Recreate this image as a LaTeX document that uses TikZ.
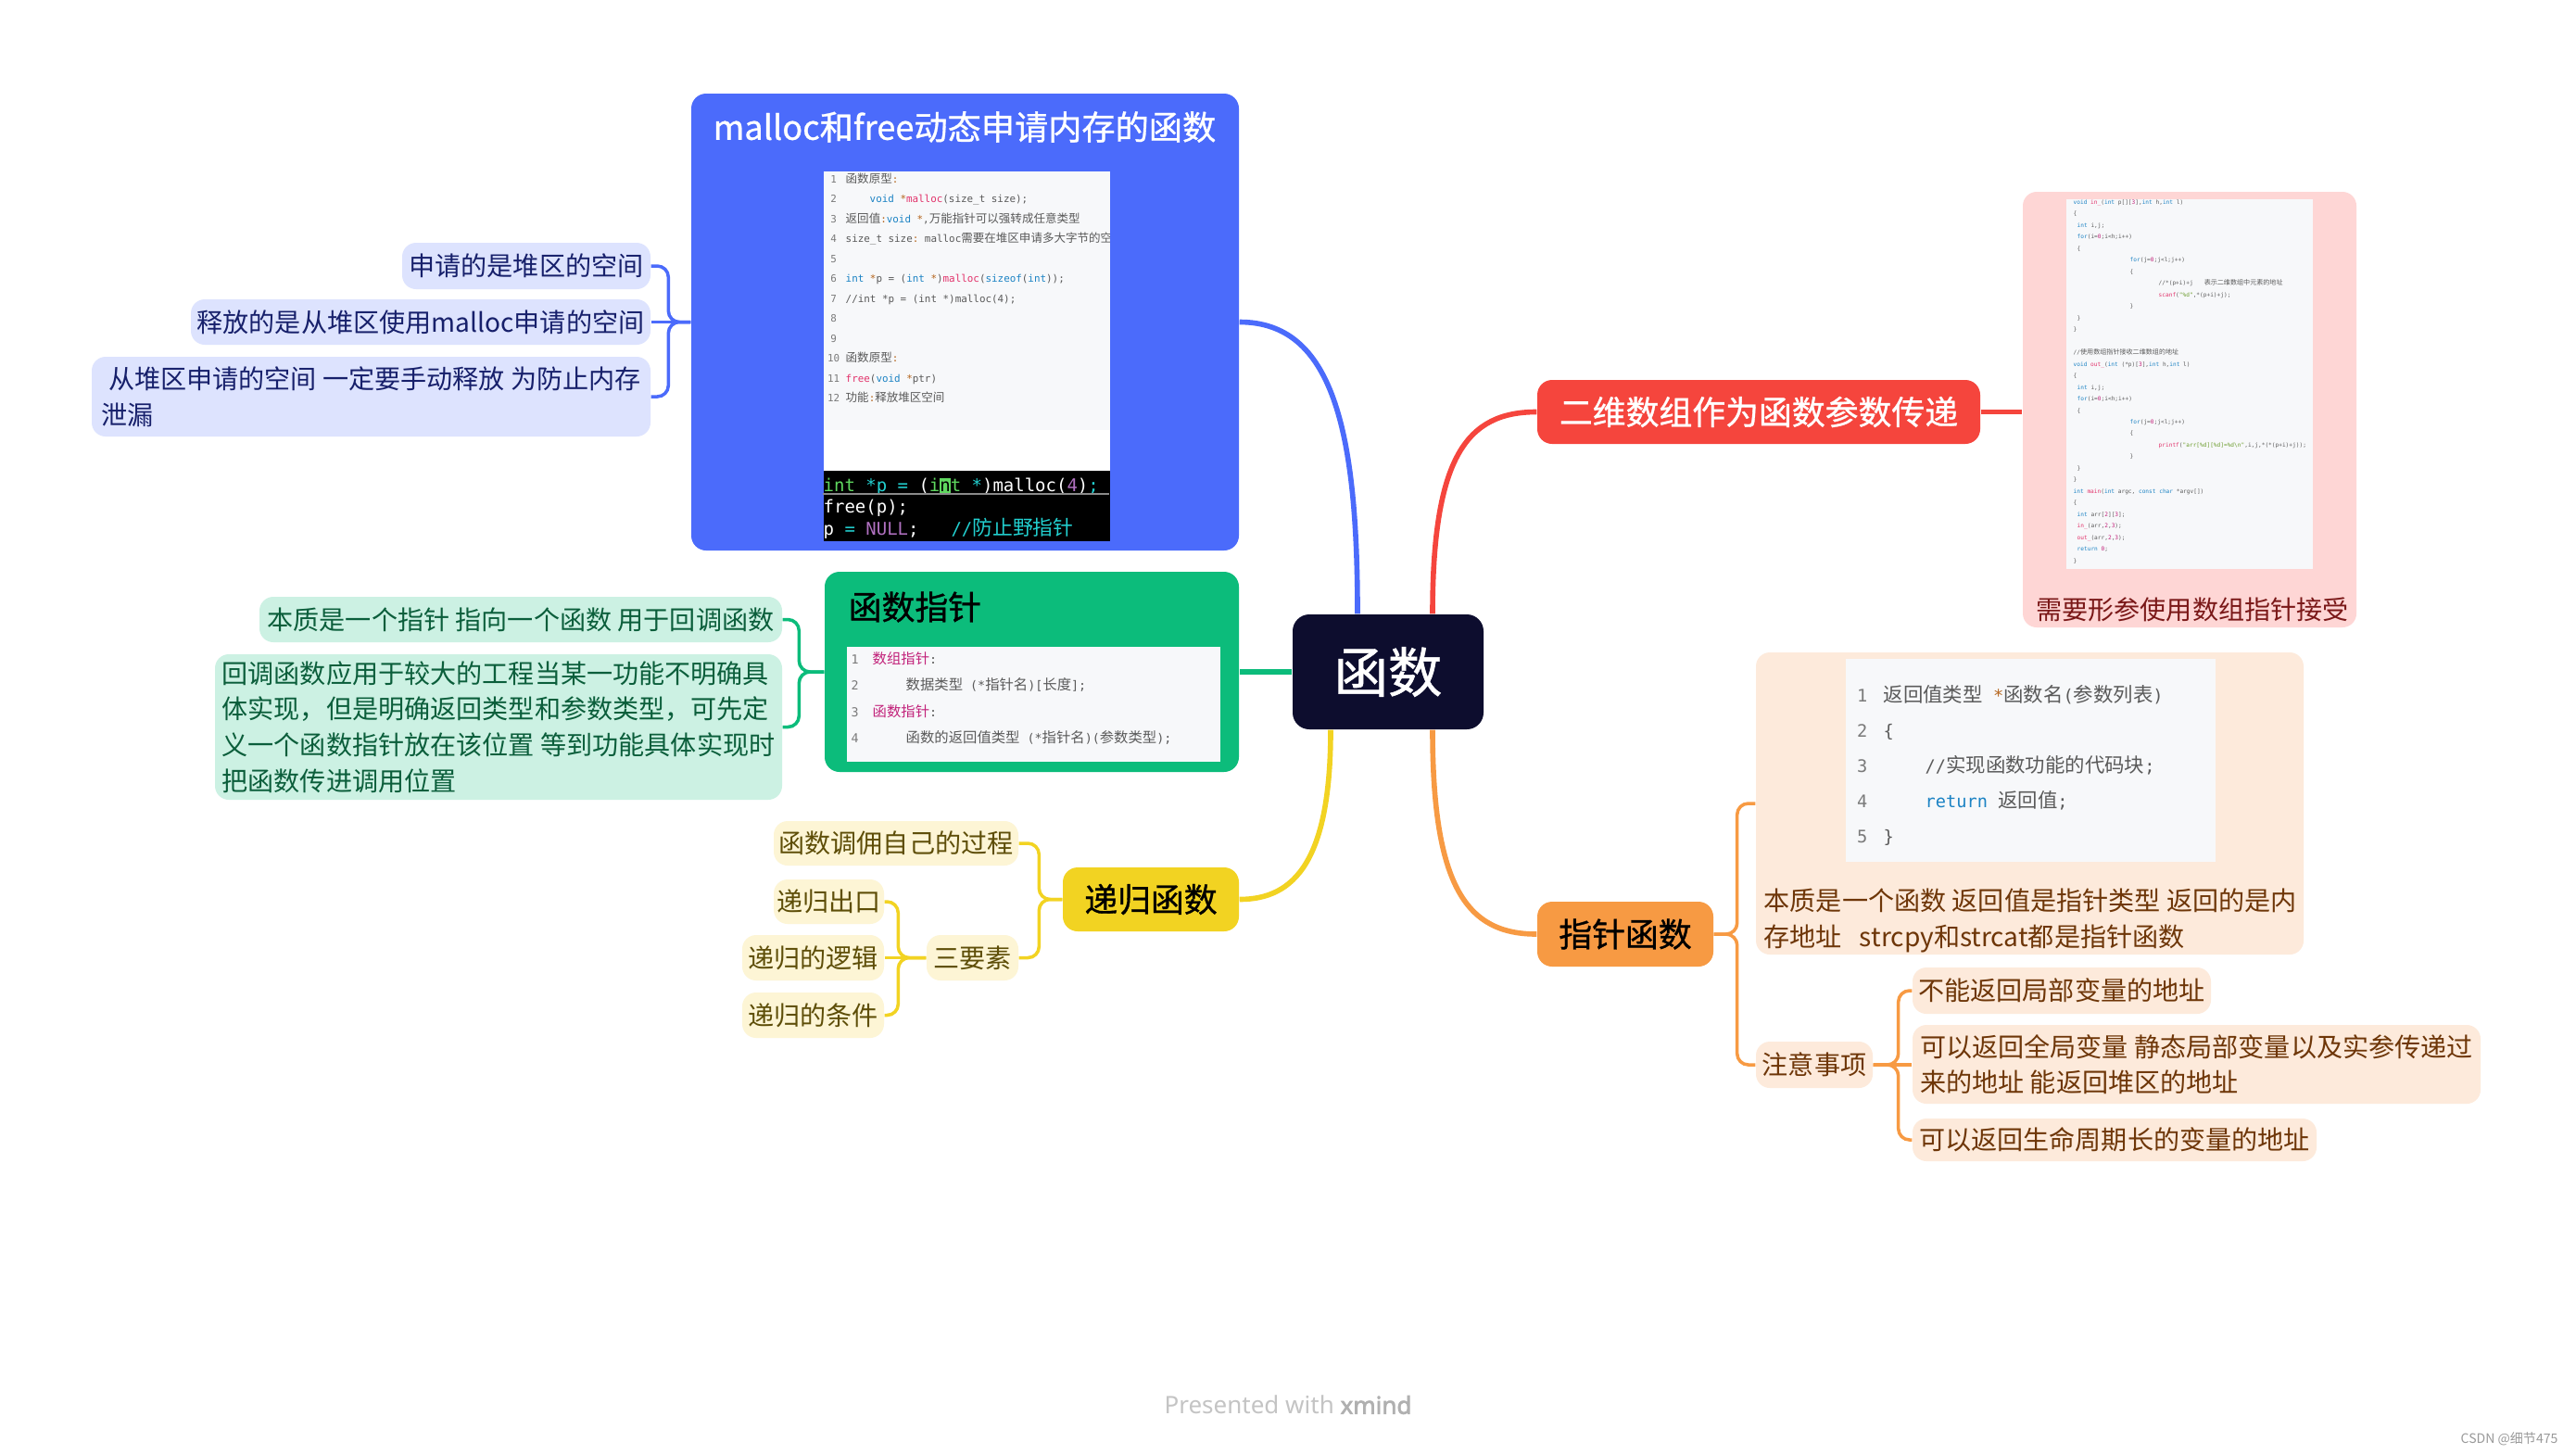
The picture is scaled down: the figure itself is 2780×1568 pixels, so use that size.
\documentclass[tikz,border=0pt]{standalone}
\usepackage{fontspec}
\setmainfont{Noto Sans CJK SC}
\setmonofont{DejaVu Sans Mono}
\newfontfamily\zhcode{Noto Sans CJK SC}[Scale=1.15]
\newfontfamily\topicfont{Noto Sans CJK SC}[FakeBold=0.9]
\newfontfamily\footfont{Noto Sans}[BoldFont={Noto Sans}, BoldFeatures={FakeBold=2.5}]
\usetikzlibrary{positioning}

\definecolor{mapnavy}{HTML}{0D0D2E}
\definecolor{mapblue}{HTML}{4B6BFB}
\definecolor{mapbluel}{HTML}{DDE3FE}
\definecolor{mapbluet}{HTML}{17206B}
\definecolor{mapgreen}{HTML}{0CBC7B}
\definecolor{mapgreenl}{HTML}{CCF1E3}
\definecolor{mapgreent}{HTML}{0B5E3B}
\definecolor{mapyellow}{HTML}{F2D322}
\definecolor{mapyellowl}{HTML}{FDF5D5}
\definecolor{mapyellowt}{HTML}{5E4E08}
\definecolor{mapred}{HTML}{F5453D}
\definecolor{mappink}{HTML}{FED6D5}
\definecolor{mappinkt}{HTML}{7A1818}
\definecolor{maporange}{HTML}{F79A43}
\definecolor{mappeach}{HTML}{FDEADB}
\definecolor{mappeacht}{HTML}{6E3608}
\definecolor{codebg}{HTML}{F7F8FA}
\definecolor{codegray}{HTML}{5A5A5A}
\definecolor{codeln}{HTML}{7A7A7A}
\definecolor{codekw}{HTML}{1C83C4}
\definecolor{codefn}{HTML}{E2336B}
\definecolor{codestr}{HTML}{6A9B2A}
\definecolor{codenum}{HTML}{C2227A}
\definecolor{codemag}{HTML}{C2227A}
\definecolor{codebrown}{HTML}{B5651D}
\definecolor{termgreen}{HTML}{5FD75F}
\definecolor{termcyan}{HTML}{22D0D0}
\definecolor{termpurple}{HTML}{B070C0}
\definecolor{termrule}{HTML}{8A8A8A}
\definecolor{footgray}{HTML}{C4C4C4}
\definecolor{footdark}{HTML}{B0B0B0}
\definecolor{markgray}{HTML}{9A9A9A}

\newcommand{\lno}[2]{\makebox[#1][c]{\color{codeln}#2}}
\newcommand{\ckw}[1]{{\color{codekw}#1}}
\newcommand{\cfn}[1]{{\color{codefn}#1}}
\newcommand{\cstr}[1]{{\color{codestr}#1}}
\newcommand{\cnum}[1]{{\color{codenum}#1}}
\newcommand{\cpt}[1]{{\color{codebrown}#1}}

\tikzset{
  hub/.style={fill=mapnavy, text=white, rounded corners=1.8mm, inner sep=0pt,
    minimum width=20.6mm, minimum height=12.4mm, font=\topicfont\fontsize{16.6}{20}\selectfont},
  topic/.style={rounded corners=1.6mm, inner sep=0pt, font=\topicfont\fontsize{10.2}{12}\selectfont},
  leaf/.style={rounded corners=1.5mm, inner sep=0pt, font=\fontsize{8}{11}\selectfont},
  branch/.style={line width=1.6pt},
  twig/.style={line width=1pt, rounded corners=1.2mm},
  codebox/.style={fill=codebg, inner sep=0pt, anchor=north west},
  codetext/.style={inner sep=0pt, anchor=north west, align=left, text=codegray},
}

\begin{document}
\begin{tikzpicture}[x=0.1mm,y=-0.1mm]
\useasboundingbox (0,0) rectangle (2780,1568);
\fill[white] (0,0) rectangle (2780,1568);

% centre
\node[hub] (hub) at (1498,725) {函数};

% malloc and free
\node[topic, fill=mapblue, minimum width=59.1mm, minimum height=49.3mm] (malloc) at (1041.5,347.5) {};
\node[font=\topicfont\fontsize{10.3}{12}\selectfont, text=white] (malloctitle) at (1041,137) {malloc和free动态申请内存的函数};
\node[codebox, minimum width=30.9mm, minimum height=27.9mm] (mallocsrc) at (888,184) {};
\node[codebox, fill=white, minimum width=30.9mm, minimum height=4.4mm] (mallocgap) at (888,463) {};
\node[codebox, fill=black, minimum width=30.9mm, minimum height=7.6mm] (mallocterm) at (888,507) {};
\begin{scope}
\clip (888,184) rectangle (1197,463);
\node[codetext, font=\ttfamily\fontsize{3.1}{6.12}\selectfont] (malloccode) at (888,186) {%
\lno{2.2mm}{1}\hspace*{0.2mm}{\zhcode 函数原型}\cpt{:}\\
\lno{2.2mm}{2}\hspace*{2.8mm}\ckw{void} \cpt{*}\cfn{malloc}(size\_t size);\\
\lno{2.2mm}{3}\hspace*{0.2mm}{\zhcode 返回值}\cpt{:}\ckw{void} \cpt{*},{\zhcode 万能指针可以强转成任意类型}\\
\lno{2.2mm}{4}\hspace*{0.2mm}size\_t size\cpt{:} malloc{\zhcode 需要在堆区申请多大字节的空间}\\
\lno{2.2mm}{5}\\
\lno{2.2mm}{6}\hspace*{0.2mm}\ckw{int} \cpt{*}p = (\ckw{int} \cpt{*})\cfn{malloc}(\ckw{sizeof}(\ckw{int}));\\
\lno{2.2mm}{7}\hspace*{0.2mm}//int *p = (int *)malloc(4);\\
\lno{2.2mm}{8}\\
\lno{2.2mm}{9}\\
\lno{2.2mm}{10}\hspace*{0.2mm}{\zhcode 函数原型}\cpt{:}\\
\lno{2.2mm}{11}\hspace*{0.2mm}\cfn{free}(\ckw{void} \cpt{*}ptr)\\
\lno{2.2mm}{12}\hspace*{0.2mm}{\zhcode 功能}\cpt{:}{\zhcode 释放堆区空间}};
\end{scope}
\node[codetext, text=white, font=\ttfamily\fontsize{5.4}{6.7}\selectfont] (mallocshell) at (888,515) {%
\textcolor{termgreen}{int} \textcolor{termcyan}{*p =} (\textcolor{termgreen}{i}{\setlength{\fboxsep}{0pt}\colorbox{termgreen}{\textcolor{black}{n}\vphantom{lp}}}\textcolor{termgreen}{t} \textcolor{termcyan}{*})malloc(\textcolor{termpurple}{4})\textcolor{termcyan}{;}\\
free(p);\\
p \textcolor{termcyan}{=} \textcolor{termpurple}{NULL};\hspace*{3.5mm}\textcolor{termcyan}{//{\zhcode 防止野指针}}};
\draw[termrule] (888,533) -- (1197,533);

\node[leaf, fill=mapbluel, text=mapbluet, minimum width=26.8mm, minimum height=5mm] (heap) at (568,287) {申请的是堆区的空间};
\node[leaf, fill=mapbluel, text=mapbluet, minimum width=49.6mm, minimum height=4.9mm] (release) at (454,347.5) {释放的是从堆区使用malloc申请的空间};
\node[leaf, fill=mapbluel, text=mapbluet, minimum width=60.3mm, minimum height=8.6mm, align=left] (leak) at (400.5,428) {\hspace*{0.8mm}从堆区申请的空间 一定要手动释放 为防止内存\\泄漏};

% function pointer
\node[topic, fill=mapgreen, minimum width=44.7mm, minimum height=21.6mm] (fptr) at (1113.5,725) {};
\node[font=\topicfont\fontsize{10.2}{12}\selectfont, anchor=west, inner sep=0pt] (fptrtitle) at (915,655) {函数指针};
\node[codebox, minimum width=40.3mm, minimum height=12.4mm] (fptrsrc) at (913,697) {};
\node[codetext, font=\ttfamily\fontsize{3.8}{8.06}\selectfont] (fptrcode) at (913,703) {%
\lno{1.8mm}{1}\hspace*{1mm}{\color{codemag}\zhcode 数组指针}:\\
\lno{1.8mm}{2}\hspace*{4.6mm}{\zhcode 数据类型} (*{\zhcode 指针名})[{\zhcode 长度}];\\
\lno{1.8mm}{3}\hspace*{1mm}{\color{codemag}\zhcode 函数指针}:\\
\lno{1.8mm}{4}\hspace*{4.6mm}{\zhcode 函数的返回值类型} (*{\zhcode 指针名})({\zhcode 参数类型});};

\node[leaf, fill=mapgreenl, text=mapgreent, minimum width=56.4mm, minimum height=4.9mm] (essence) at (562,668.5) {本质是一个指针 指向一个函数 用于回调函数};
\node[leaf, fill=mapgreenl, text=mapgreent, minimum width=61.2mm, minimum height=15.7mm, align=left] (callback) at (538,784.5) {回调函数应用于较大的工程当某一功能不明确具\\体实现，但是明确返回类型和参数类型，可先定\\义一个函数指针放在该位置 等到功能具体实现时\\把函数传进调用位置};

% recursion
\node[topic, fill=mapyellow, minimum width=19mm, minimum height=6.9mm] (recur) at (1242,970.5) {递归函数};
\node[leaf, fill=mapyellowl, text=mapyellowt, minimum width=26.4mm, minimum height=4.8mm] (selfcall) at (967,910) {函数调佣自己的过程};
\node[leaf, fill=mapyellowl, text=mapyellowt, minimum width=9.9mm, minimum height=4.9mm] (three) at (1049.5,1033.5) {三要素};
\node[leaf, fill=mapyellowl, text=mapyellowt, minimum width=11.9mm, minimum height=4.8mm] (exit) at (894.5,973) {递归出口};
\node[leaf, fill=mapyellowl, text=mapyellowt, minimum width=15.3mm, minimum height=4.9mm] (logic) at (877.5,1033.5) {递归的逻辑};
\node[leaf, fill=mapyellowl, text=mapyellowt, minimum width=15.3mm, minimum height=4.9mm] (cond) at (877.5,1095.5) {递归的条件};

% 2d array
\node[topic, fill=mapred, text=white, minimum width=47.8mm, minimum height=6.9mm] (array) at (1898,444.5) {二维数组作为函数参数传递};
\node[leaf, fill=mappink, minimum width=36mm, minimum height=47mm] (arraynote) at (2363,442) {};
\node[codebox, minimum width=26.6mm, minimum height=39.9mm] (arraysrc) at (2229,214) {};
\node[codetext, font=\ttfamily\fontsize{1.75}{3.55}\selectfont] (arraycode) at (2237,215) {%
\ckw{void} \cfn{in\_}(\ckw{int} p[][\cnum{3}],\ckw{int} h,\ckw{int} l)\\
\{\\
\hspace*{0.4mm}\ckw{int} i,j;\\
\hspace*{0.4mm}\ckw{for}(i=\cnum{0};i<h;i++)\\
\hspace*{0.4mm}\{\\
\hspace*{6.1mm}\ckw{for}(j=\cnum{0};j<l;j++)\\
\hspace*{6.1mm}\{\\
\hspace*{9.2mm}//*(p+i)+j\hspace*{1.2mm}{\zhcode 表示二维数组中元素的地址}\\
\hspace*{9.2mm}\cfn{scanf}(\cstr{"\%d"},*(p+i)+j);\\
\hspace*{6.1mm}\}\\
\hspace*{0.4mm}\}\\
\}\\
\mbox{}\\
//{\zhcode 使用数组指针接收二维数组的地址}\\
\ckw{void} \cfn{out\_}(\ckw{int} (*p)[\cnum{3}],\ckw{int} h,\ckw{int} l)\\
\{\\
\hspace*{0.4mm}\ckw{int} i,j;\\
\hspace*{0.4mm}\ckw{for}(i=\cnum{0};i<h;i++)\\
\hspace*{0.4mm}\{\\
\hspace*{6.1mm}\ckw{for}(j=\cnum{0};j<l;j++)\\
\hspace*{6.1mm}\{\\
\hspace*{9.2mm}\cfn{printf}(\cstr{"arr[\%d][\%d]=\%d\textbackslash n"},i,j,*(*(p+i)+j));\\
\hspace*{6.1mm}\}\\
\hspace*{0.4mm}\}\\
\}\\
\ckw{int} \cfn{main}(\ckw{int} argc, \ckw{const} \ckw{char} *argv[])\\
\{\\
\hspace*{0.4mm}\ckw{int} arr[\cnum{2}][\cnum{3}];\\
\hspace*{0.4mm}\cfn{in\_}(arr,\cnum{2},\cnum{3});\\
\hspace*{0.4mm}\cfn{out\_}(arr,\cnum{2},\cnum{3});\\
\hspace*{0.4mm}\ckw{return} \cnum{0};\\
\}};
\node[font=\fontsize{8}{10}\selectfont, text=mappinkt] (arraytext) at (2366,658) {需要形参使用数组指针接受};

% pointer function
\node[topic, fill=maporange, minimum width=19mm, minimum height=7mm] (ptrfn) at (1754,1008) {指针函数};
\node[leaf, fill=mappeach, minimum width=59.1mm, minimum height=32.6mm] (ptrnote) at (2190.5,867) {};
\node[codebox, minimum width=39.9mm, minimum height=21.9mm] (ptrsrc) at (1991,710) {};
\node[codetext, font=\ttfamily\fontsize{5.3}{10.8}\selectfont] (ptrcode) at (1991,739) {%
\lno{3.6mm}{1}\hspace*{0.5mm}{\zhcode 返回值类型} \cpt{*}{\zhcode 函数名}({\zhcode 参数列表})\\
\lno{3.6mm}{2}\hspace*{0.5mm}\{\\
\lno{3.6mm}{3}\hspace*{5mm}//{\zhcode 实现函数功能的代码块};\\
\lno{3.6mm}{4}\hspace*{5mm}\ckw{return} {\zhcode 返回值};\\
\lno{3.6mm}{5}\hspace*{0.5mm}\}};
\node[anchor=north west, inner sep=0pt, align=left, text=mappeacht, font=\fontsize{8}{11}\selectfont] (ptrtext) at (1903,958) {本质是一个函数 返回值是指针类型 返回的是内\\存地址\ \ \ strcpy和strcat都是指针函数};
\node[leaf, fill=mappeach, text=mappeacht, minimum width=12.6mm, minimum height=5mm] (caution) at (1958,1149) {注意事项};
\node[leaf, fill=mappeach, text=mappeacht, minimum width=32.2mm, minimum height=5mm] (nolocal) at (2225,1069) {不能返回局部变量的地址};
\node[leaf, fill=mappeach, text=mappeacht, minimum width=61.3mm, minimum height=8.5mm, align=left] (canret) at (2370.5,1148.5) {可以返回全局变量 静态局部变量以及实参传递过\\来的地址 能返回堆区的地址};
\node[leaf, fill=mappeach, text=mappeacht, minimum width=43.6mm, minimum height=4.6mm] (longlife) at (2282,1230) {可以返回生命周期长的变量的地址};

% main branches
\draw[branch, mapblue] ([xshift=-3.3mm]hub.north) .. controls +(0,-200) and +(100,0) .. (malloc.east);
\draw[branch, mapred] ([xshift=4.8mm]hub.north) .. controls +(0,-170) and +(-75,0) .. (array.west);
\draw[branch, maporange] ([xshift=4.8mm]hub.south) .. controls +(0,170) and +(-75,0) .. (ptrfn.west);
\draw[branch, mapyellow] ([xshift=-6.2mm]hub.south) .. controls +(0,140) and +(60,0) .. (recur.east);
\draw[branch, mapgreen] (hub.west) -- (fptr.east);
\draw[branch, mapred] (array.east) -- (array.east -| arraynote.west);

% sub branches
\draw[twig, mapblue] (malloc.west) -- ++(-24,0) |- (heap.east);
\draw[twig, mapblue] (malloc.west) -- (release.east);
\draw[twig, mapblue] (malloc.west) -- ++(-24,0) |- (leak.east);
\draw[twig, mapgreen] (fptr.west) -- ++(-27,0) |- (essence.east);
\draw[twig, mapgreen] (fptr.west) -- ++(-27,0) |- (callback.east);
\draw[twig, mapyellow] (recur.west) -- ++(-25,0) |- (selfcall.east);
\draw[twig, mapyellow] (recur.west) -- ++(-25,0) |- (three.east);
\draw[twig, mapyellow] (three.west) -- ++(-30,0) |- (exit.east);
\draw[twig, mapyellow] (three.west) -- (logic.east);
\draw[twig, mapyellow] (three.west) -- ++(-30,0) |- (cond.east);
\draw[twig, maporange] (ptrfn.east) -- ++(25,0) |- (ptrnote.west);
\draw[twig, maporange] (ptrfn.east) -- ++(25,0) |- (caution.west);
\draw[twig, maporange] (caution.east) -- ++(27,0) |- (nolocal.west);
\draw[twig, maporange] (caution.east) -- (caution.east -| canret.west);
\draw[twig, maporange] (caution.east) -- ++(27,0) |- (longlife.west);

% footer
\node[font=\footfont\fontsize{7.4}{9}\selectfont, text=footgray] (footer) at (1390,1516) {Presented with {\color{footdark}\bfseries xmind}};
\node[font=\fontsize{4}{5}\selectfont, text=markgray] (mark) at (2708,1553) {CSDN @细节475};
\end{tikzpicture}
\end{document}
